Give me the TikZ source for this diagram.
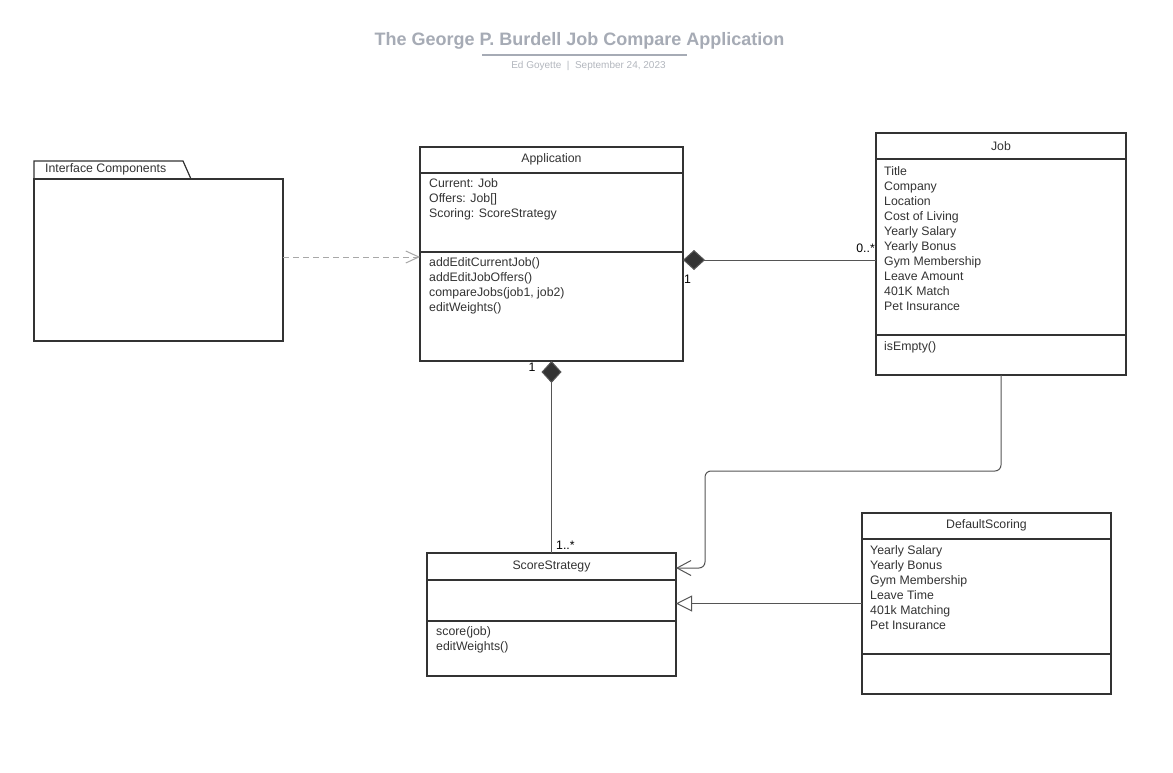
\documentclass[tikz,border=0pt]{standalone}
\usepackage{fontspec}
\setmainfont{Liberation Sans}
\usetikzlibrary{arrows.meta}
\definecolor{boxline}{HTML}{333333}
\definecolor{conn}{HTML}{555555}
\definecolor{dashc}{HTML}{A8A8A8}
\definecolor{titlec}{HTML}{A6ABB5}
\definecolor{subc}{HTML}{B3B7BE}
\definecolor{txt}{HTML}{333333}
\tikzset{
  umlbox/.style={draw=boxline, line width=1.2pt, fill=white, inner sep=0pt, outer sep=0pt, anchor=north west},
  divider/.style={draw=boxline, line width=1.2pt},
  hdr/.style={font=\fontsize{12.3}{15}\selectfont, text=txt, inner sep=0pt},
  lines/.style={font=\fontsize{12.3}{15}\selectfont, text=txt, inner sep=0pt, align=left, anchor=north west},
  mult/.style={font=\fontsize{12.3}{15}\selectfont, text=black, inner sep=0pt},
  comp/.style={draw=conn, line width=1pt, {Diamond[length=22pt,width=20pt,fill=boxline]}-},
  dep/.style={draw=dashc, line width=1pt, dash pattern=on 6pt off 4pt, -{Straight Barb[length=13pt,width=12pt]}},
  assoc/.style={draw=conn, line width=1pt, rounded corners=6pt, -{Straight Barb[length=14pt,width=15pt]}},
  gen/.style={draw=conn, line width=1pt, -{Triangle[open,length=16pt,width=16pt,fill=white]}}
}
\begin{document}
\begin{tikzpicture}[x=1pt,y=-1pt]
\fill[white] (0,0) rectangle (1173,773);
\useasboundingbox (0,0) rectangle (1173,773);

% title
\node[font=\fontsize{18}{20}\selectfont\bfseries, text=titlec, inner sep=0pt] (title) at (579.5,41) {The George P. Burdell Job Compare Application};
\coordinate (ulL) at (482,55);
\coordinate (ulR) at (687,55);
\draw[titlec, line width=1.5pt] (ulL) -- (ulR);
\node[font=\fontsize{10}{12}\selectfont, text=subc, inner sep=0pt] (subtitle) at (588.5,66) {Ed Goyette~~|~~September 24, 2023};

% package
\draw[boxline, line width=1.2pt, fill=white] (34,179) -- (34,161) -- (183,161) -- (191,179);
\node[umlbox, minimum width=249pt, minimum height=162pt] (pkg) at (34,179) {};
\node[hdr, anchor=west] (pkglabel) at (45,169) {Interface Components};

% Application
\node[umlbox, minimum width=263pt, minimum height=214pt] (app) at (420,147) {};
\draw[divider] (420,173) -- (683,173);
\draw[divider] (420,252) -- (683,252);
\node[hdr] (apptitle) at (551.5,159) {Application};
\node[lines] (appattr) at (429,178.5) {Current: Job\\Offers: Job[]\\Scoring: ScoreStrategy};
\node[lines] (appops) at (429,257.5) {addEditCurrentJob()\\addEditJobOffers()\\compareJobs(job1, job2)\\editWeights()};

% Job
\node[umlbox, minimum width=250pt, minimum height=242pt] (job) at (876,133) {};
\draw[divider] (876,159) -- (1126,159);
\draw[divider] (876,335) -- (1126,335);
\node[hdr] (jobtitle) at (1001,146) {Job};
\node[lines] (jobattr) at (884,166) {Title\\Company\\Location\\Cost of Living\\Yearly Salary\\Yearly Bonus\\Gym Membership\\Leave Amount\\401K Match\\Pet Insurance};
\node[lines] (jobops) at (884,341) {isEmpty()};

% ScoreStrategy
\node[umlbox, minimum width=249pt, minimum height=123pt] (ss) at (427,553) {};
\draw[divider] (427,580) -- (676,580);
\draw[divider] (427,621) -- (676,621);
\node[hdr] (sstitle) at (551.5,566.5) {ScoreStrategy};
\node[lines] (ssops) at (436,626.5) {score(job)\\editWeights()};

% DefaultScoring
\node[umlbox, minimum width=249pt, minimum height=181pt] (ds) at (862,513) {};
\draw[divider] (862,539) -- (1111,539);
\draw[divider] (862,654) -- (1111,654);
\node[hdr] (dstitle) at (986.5,525.5) {DefaultScoring};
\node[lines] (dsattr) at (870,545) {Yearly Salary\\Yearly Bonus\\Gym Membership\\Leave Time\\401k Matching\\Pet Insurance};

% connectors
\draw[dep] ([yshift=3pt]pkg.east) -- ([yshift=3pt]pkg.east -| app.west);
\draw[comp] ([yshift=-6pt]app.east) -- ([yshift=-6pt]app.east -| job.west);
\node[mult, anchor=west] (m1) at (684,279) {1};
\node[mult, anchor=east] (m2) at (875,248) {0..*};
\draw[comp] (app.south) -- (app.south |- ss.north);
\node[mult] (m3) at (532,367) {1};
\node[mult, anchor=west] (m4) at (556,545) {1..*};
\coordinate (bend1) at (1001,471);
\coordinate (bend2) at (705,471);
\coordinate (bend3) at (705,568);
\draw[assoc] (job.south) -- (bend1) -- (bend2) -- (bend3) -- (bend3 -| ss.east);
\draw[gen] (ds.west) -- (ds.west -| ss.east);
\end{tikzpicture}
\end{document}
